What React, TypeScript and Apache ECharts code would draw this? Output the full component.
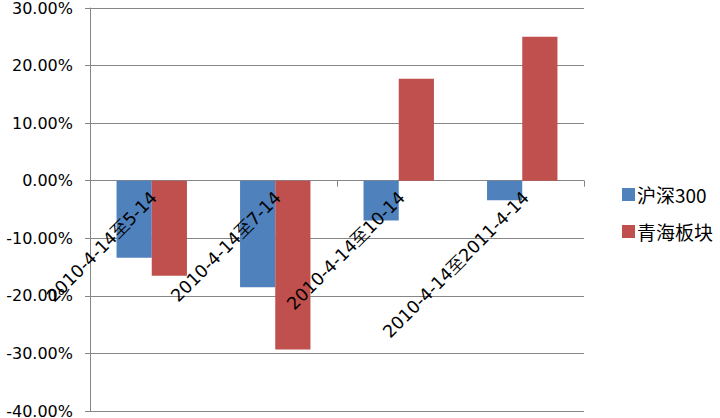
import React, { useEffect, useRef } from "react";
import * as echarts from "echarts";

const categories = ["2010-4-14至5-14", "2010-4-14至7-14", "2010-4-14至10-14", "2010-4-14至2011-4-14"];
const hs300 = [-13.4, -18.5, -6.9, -3.4];
const qinghai = [-16.5, -29.3, 17.7, 25.0];
const seriesNames = ["沪深300", "青海板块"];

export default function App() {
  const ref = useRef<HTMLDivElement>(null);
  useEffect(() => {
    const chart = echarts.init(ref.current!, null, { renderer: "svg" });
    const yMin = -40;
    const yMax = 30;
    const gTop = 8;
    const gBottom = 7;
    const plotH = 418 - gTop - gBottom;
    const zeroY = gTop + (plotH * yMax) / (yMax - yMin);
    chart.setOption({
      animation: false,
      backgroundColor: "#fff",
      grid: [
        { left: 90, right: 136, top: gTop, bottom: gBottom, containLabel: false, outerBoundsMode: "none" },
        { left: 92, right: 132, top: gTop, height: zeroY - gTop, containLabel: false, outerBoundsMode: "none" },
      ],
      legend: {
        orient: "vertical",
        left: 617,
        top: 180,
        itemWidth: 13,
        itemHeight: 13,
        itemGap: 18,
        icon: "rect",
        textStyle: { fontFamily: "Noto Sans CJK SC", fontSize: 19, color: "#000", padding: [0, 0, 0, -3] },
        data: seriesNames,
      },
      xAxis: [
        {
          type: "category",
          data: categories,
          gridIndex: 0,
          axisLine: { onZero: true, lineStyle: { color: "#868686", width: 1 } },
          axisTick: { show: true, length: 6, lineStyle: { color: "#868686" } },
          axisLabel: { show: false },
          splitLine: { show: false },
        },
        {
          type: "category",
          data: categories,
          gridIndex: 1,
          position: "bottom",
          z: 10,
          axisLine: { show: false },
          axisTick: { show: false },
          axisLabel: { rotate: 45, margin: 14, fontFamily: "DejaVu Sans", fontSize: 17.5, color: "#000", interval: 0 },
          splitLine: { show: false },
        },
      ],
      yAxis: [
        {
          type: "value",
          gridIndex: 0,
          min: yMin,
          max: yMax,
          interval: 10,
          axisLine: { show: true, lineStyle: { color: "#868686" } },
          axisTick: { show: true, length: 5, lineStyle: { color: "#868686" } },
          axisLabel: {
            fontFamily: "DejaVu Sans",
            fontSize: 16,
            color: "#000",
            margin: 17,
            formatter: (v: number) => v.toFixed(2) + "%",
          },
          splitLine: { show: true, lineStyle: { color: "#868686", width: 1 } },
        },
        {
          type: "value",
          gridIndex: 1,
          min: 0,
          max: 1,
          show: false,
        },
      ],
      series: [
        { name: seriesNames[0], type: "bar", data: hs300, itemStyle: { color: "#4F81BD" }, barGap: "0%", barCategoryGap: "43%" },
        { name: seriesNames[1], type: "bar", data: qinghai, itemStyle: { color: "#C0504D" }, barGap: "0%", barCategoryGap: "43%" },
      ],
    });
    return () => chart.dispose();
  }, []);
  return <div ref={ref} style={{ width: 720, height: 418, position: "absolute", left: 0, top: 0 }} />;
}
